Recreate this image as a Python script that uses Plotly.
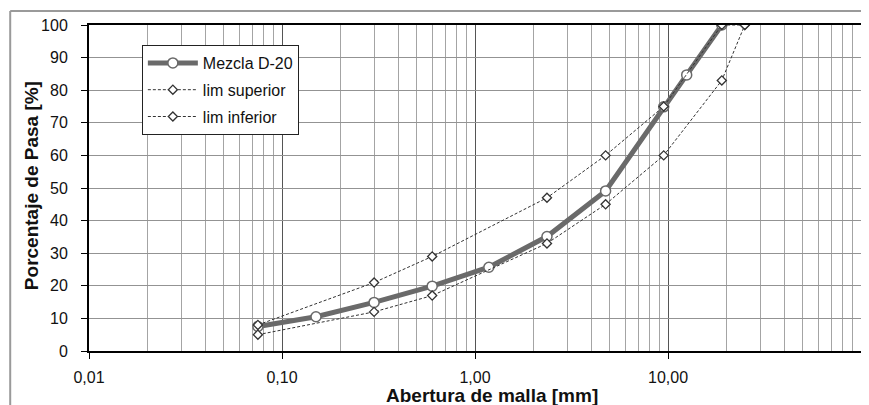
import plotly.graph_objects as go

# Data
mezcla_x = [0.075, 0.15, 0.3, 0.6, 1.18, 2.36, 4.75, 9.5, 12.5, 19]
mezcla_y = [7.5, 10.5, 14.9, 19.9, 25.7, 35.1, 49.1, 74.9, 84.7, 100]

sup_x = [0.075, 0.3, 0.6, 2.36, 4.75, 9.5, 19, 25]
sup_y = [8, 21, 29, 47, 60, 75, 100, 100]

inf_x = [0.075, 0.3, 0.6, 2.36, 4.75, 9.5, 19, 25]
inf_y = [5, 12, 17, 33, 45, 60, 83, 100]

x_tickvals = [0.01, 0.1, 1, 10]
x_ticktext = ["0,01", "0,10", "1,00", "10,00"]
y_tickvals = [0, 10, 20, 30, 40, 50, 60, 70, 80, 90, 100]

FONT = "Liberation Sans, Arial, sans-serif"

fig = go.Figure()
fig.add_trace(go.Scatter(
    x=mezcla_x, y=mezcla_y, name="Mezcla D-20", mode="lines+markers", legendgroup="a",
    line=dict(color="#6a6a6a", width=5),
    marker=dict(symbol="circle", size=10, color="white", line=dict(color="#6a6a6a", width=1.5)),
))
fig.add_trace(go.Scatter(
    x=sup_x, y=sup_y, name="lim superior", mode="lines+markers", legendgroup="b",
    line=dict(color="#333333", width=1, dash="3px,2px"),
    marker=dict(symbol="diamond", size=7, color="white", line=dict(color="#333333", width=1.3)),
))
fig.add_trace(go.Scatter(
    x=inf_x, y=inf_y, name="lim inferior", mode="lines+markers", legendgroup="c",
    line=dict(color="#333333", width=1, dash="3px,2px"),
    marker=dict(symbol="diamond", size=7, color="white", line=dict(color="#333333", width=1.3)),
))

# page geometry (the page body adds an 8px offset)
OFF = 8
W, H = 869 - OFF, 405 - OFF
PL, PR, PT, PB = 89, 863, 25, 351  # plot area edges in page pixels
L, T = PL - OFF, PT - OFF
R = W - (PR - OFF)
B = H - (PB - OFF)
pw, ph = PR - PL, PB - PT

def px_x(p):
    return (p - PL) / pw

def px_y(p):
    return (PB - p) / ph

fig.update_layout(
    width=W, height=H,
    margin=dict(l=L, r=R, t=T, b=B),
    paper_bgcolor="white", plot_bgcolor="white",
    font=dict(family=FONT, size=16, color="#111111"),
    showlegend=True,
    legend=dict(
        x=px_x(142), y=px_y(45), xanchor="left", yanchor="top",
        bordercolor="#222222", borderwidth=1, bgcolor="white",
        font=dict(family=FONT, size=16, color="#111111"),
        itemwidth=50, tracegroupgap=3,
    ),
    xaxis=dict(
        type="log", range=[-2, 2],
        tickmode="array", tickvals=x_tickvals, ticktext=x_ticktext,
        ticks="outside", ticklen=6, tickcolor="black",
        showline=True, linecolor="black", linewidth=2, mirror=True,
        showgrid=True, gridcolor="#555555", gridwidth=1,
        minor=dict(dtick="D1", showgrid=True, gridcolor="#a4a4a4", gridwidth=1, ticks=""),
        zeroline=False,
        tickfont=dict(size=16),
        ticklabelstandoff=5,
    ),
    yaxis=dict(
        range=[0, 100], tickvals=y_tickvals,
        ticks="outside", ticklen=6, tickcolor="black",
        showline=True, linecolor="black", linewidth=2, mirror=True,
        showgrid=True, gridcolor="#939393", gridwidth=1.3,
        zeroline=False,
        tickfont=dict(size=16),
        ticklabelstandoff=10,
    ),
    annotations=[
        dict(text="<b>Abertura de malla [mm]</b>", x=px_x(493), y=px_y(395),
             xref="paper", yref="paper", showarrow=False, xanchor="center", yanchor="middle",
             font=dict(size=19, family=FONT, color="#111111")),
        dict(text="<b>Porcentaje de Pasa [%]</b>", x=px_x(31), y=px_y(186),
             xref="paper", yref="paper", showarrow=False, xanchor="center", yanchor="middle",
             textangle=-90, font=dict(size=19, family=FONT, color="#111111")),
    ],
    shapes=[
        dict(type="line", xref="paper", yref="paper", x0=px_x(10), x1=px_x(869), y0=px_y(11), y1=px_y(11),
             line=dict(color="#9a9a9a", width=2)),
        dict(type="line", xref="paper", yref="paper", x0=px_x(10), x1=px_x(10), y0=px_y(11), y1=px_y(405),
             line=dict(color="#9a9a9a", width=2)),
    ],
)

fig.write_html("out.html")
